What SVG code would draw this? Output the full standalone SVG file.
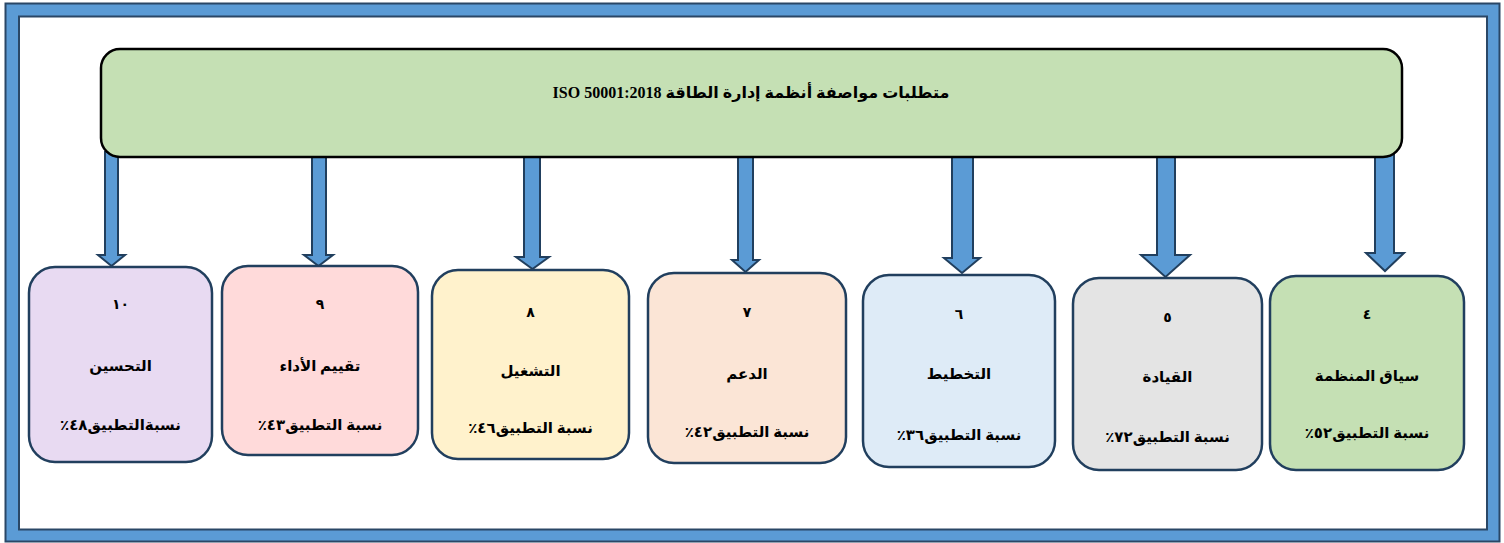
<svg xmlns="http://www.w3.org/2000/svg" width="1504" height="543" viewBox="0 0 1504 543">
<style>
.frame{fill:#5B9BD5;stroke:#2A4766;stroke-width:2}
.inner{fill:#FFFFFF;stroke:#2A4766;stroke-width:2}
.arrow{fill:#5B9BD5;stroke:#213F5E;stroke-width:2;stroke-linejoin:miter}
.box{stroke:#213F5E;stroke-width:2.5}
.title-box{fill:#C5E0B4;stroke:#000000;stroke-width:2.5}
text{font-family:"Liberation Serif","DejaVu Sans",serif;font-weight:bold;fill:#000000;text-anchor:middle;direction:rtl}
.t{font-size:16px}
.n{font-size:14px}
.l{font-size:15px}
</style>
<rect class="frame" x="5.5" y="3.5" width="1494" height="538"/>
<rect class="inner" x="19" y="16.5" width="1468" height="513"/>
<g id="connectors">
<polygon class="arrow" points="105,152 118,152 118,255 125,255 111.5,266 98,255 105,255"/>
<polygon class="arrow" points="312,152 326,152 326,255 333,255 318.5,266 304,255 312,255"/>
<polygon class="arrow" points="524,152 540,152 540,257 549,257 532.5,269 516,257 524,257"/>
<polygon class="arrow" points="738,152 753,152 753,260 759,260 745.5,272 732,260 738,260"/>
<polygon class="arrow" points="952,152 973,152 973,258 980,258 962,273 944,258 952,258"/>
<polygon class="arrow" points="1157,152 1175,152 1175,255 1190,255 1165.5,277 1141,255 1157,255"/>
<polygon class="arrow" points="1375,152 1394,152 1394,253 1404,253 1385,271 1366,253 1375,253"/>
</g>
<g id="title">
<rect class="title-box" x="101" y="49" width="1301" height="108" rx="19"/>
<text class="t" x="751" y="98">متطلبات مواصفة أنظمة إدارة الطاقة ISO 50001:2018</text>
</g>
<g id="node10">
<rect class="box" x="29" y="267" width="183" height="195" rx="26" fill="#E8DAF2"/>
<text class="n" x="120.5" y="309">١٠</text>
<text class="l" x="120.5" y="371">التحسين</text>
<text class="l" x="120.5" y="430">نسبةالتطبيق٤٨٪</text>
</g>
<g id="node9">
<rect class="box" x="222" y="266" width="196" height="189" rx="26" fill="#FFDADA"/>
<text class="n" x="320" y="309">٩</text>
<text class="l" x="320" y="371">تقييم الأداء</text>
<text class="l" x="320" y="430">نسبة التطبيق٤٣٪</text>
</g>
<g id="node8">
<rect class="box" x="432" y="270" width="197" height="189" rx="26" fill="#FFF2CC"/>
<text class="n" x="530.5" y="317">٨</text>
<text class="l" x="530.5" y="376">التشغيل</text>
<text class="l" x="530.5" y="433">نسبة التطبيق٤٦٪</text>
</g>
<g id="node7">
<rect class="box" x="648" y="273" width="198" height="190" rx="26" fill="#FBE5D6"/>
<text class="n" x="747" y="317">٧</text>
<text class="l" x="747" y="379">الدعم</text>
<text class="l" x="747" y="437">نسبة التطبيق٤٢٪</text>
</g>
<g id="node6">
<rect class="box" x="863" y="275" width="192" height="192" rx="26" fill="#DEEBF7"/>
<text class="n" x="959" y="319">٦</text>
<text class="l" x="959" y="379">التخطيط</text>
<text class="l" x="959" y="440">نسبة التطبيق٣٦٪</text>
</g>
<g id="node5">
<rect class="box" x="1073" y="278" width="189" height="192" rx="26" fill="#E4E4E4"/>
<text class="n" x="1167.5" y="322">٥</text>
<text class="l" x="1167.5" y="382">القيادة</text>
<text class="l" x="1167.5" y="442">نسبة التطبيق٧٢٪</text>
</g>
<g id="node4">
<rect class="box" x="1270" y="276" width="194" height="194" rx="26" fill="#C5E0B4"/>
<text class="n" x="1367" y="319">٤</text>
<text class="l" x="1367" y="381">سياق المنظمة</text>
<text class="l" x="1367" y="438">نسبة التطبيق٥٢٪</text>
</g>
</svg>
